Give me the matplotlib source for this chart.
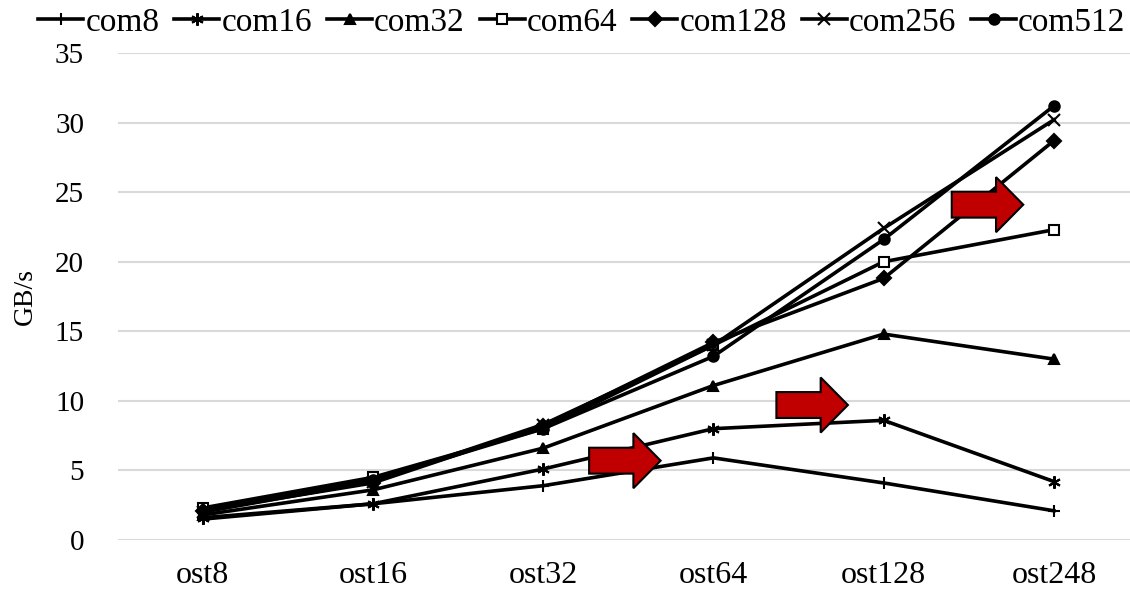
import matplotlib.pyplot as plt
from matplotlib.patches import Polygon

plt.rcParams['font.family'] = ['Liberation Serif', 'DejaVu Serif']

# OST counts on the x axis
osts = ['ost8', 'ost16', 'ost32', 'ost64', 'ost128', 'ost248']

# bandwidth in GB/s for each compute-node count
com8 = [1.5, 2.6, 3.9, 5.9, 4.1, 2.1]
com16 = [1.6, 2.6, 5.1, 8.0, 8.6, 4.2]
com32 = [1.8, 3.6, 6.6, 11.1, 14.8, 13.0]
com64 = [2.3, 4.5, 8.0, 14.0, 20.0, 22.3]
com128 = [2.1, 4.1, 8.2, 14.2, 18.8, 28.7]
com256 = [2.0, 4.2, 8.3, 14.0, 22.4, 30.2]
com512 = [2.1, 4.3, 8.0, 13.2, 21.6, 31.2]

series = [('com8', com8, '+', 'k'),
          ('com16', com16, (6, 2, 0), 'k'),
          ('com32', com32, '^', 'k'),
          ('com64', com64, 's', 'white'),
          ('com128', com128, 'D', 'k'),
          ('com256', com256, 'x', 'k'),
          ('com512', com512, 'o', 'k')]

# red block arrows: (tail x, centre y)
arrows = [(2.27, 5.7), (3.37, 9.7), (4.40, 24.1)]

fig = plt.figure(figsize=(11.3, 5.93), dpi=100)
ax = fig.add_axes([0.104, 0.0894, 0.904, 0.8212])

x = range(len(osts))
for name, vals, mk, face in series:
    size = 9 if mk in ('+', 'x', (6, 2, 0)) else 7.5
    ax.plot(x, vals, color='black', lw=2.6, marker=mk, ms=size,
            mfc=face, mec='black', mew=1.5, label=name, zorder=3)

for ax_x, ax_y in arrows:
    L, hl, bh, hh = 0.42, 0.16, 0.93, 1.98
    pts = [(ax_x, ax_y - bh), (ax_x + L - hl, ax_y - bh), (ax_x + L - hl, ax_y - hh),
           (ax_x + L, ax_y), (ax_x + L - hl, ax_y + hh), (ax_x + L - hl, ax_y + bh),
           (ax_x, ax_y + bh)]
    ax.add_patch(Polygon(pts, closed=True, facecolor='#c00000',
                         edgecolor='black', lw=1.5, zorder=5))

ax.set_xlim(-0.5, len(osts) - 0.5)
ax.set_ylim(0, 35)
ax.set_yticks(range(0, 36, 5))
ax.set_xticks(list(x))
ax.set_xticklabels(osts)
ax.grid(axis='y', color='#d9d9d9', lw=1.5)
ax.set_axisbelow(True)
for s in ax.spines.values():
    s.set_visible(False)
ax.tick_params(axis='both', length=0)
ax.tick_params(axis='y', pad=24, labelsize=21)
ax.tick_params(axis='x', pad=15, labelsize=23)
ax.set_ylabel('GB/s', fontsize=20)
ax.yaxis.set_label_coords(-0.078, 0.5)

fig.legend(loc='upper left', bbox_to_anchor=(0.034, 0.988), ncol=7,
           frameon=False, fontsize=24, handlelength=1.35, handletextpad=0.06,
           columnspacing=0.45, borderpad=0, borderaxespad=0)

fig.savefig('out.png', dpi=100)
